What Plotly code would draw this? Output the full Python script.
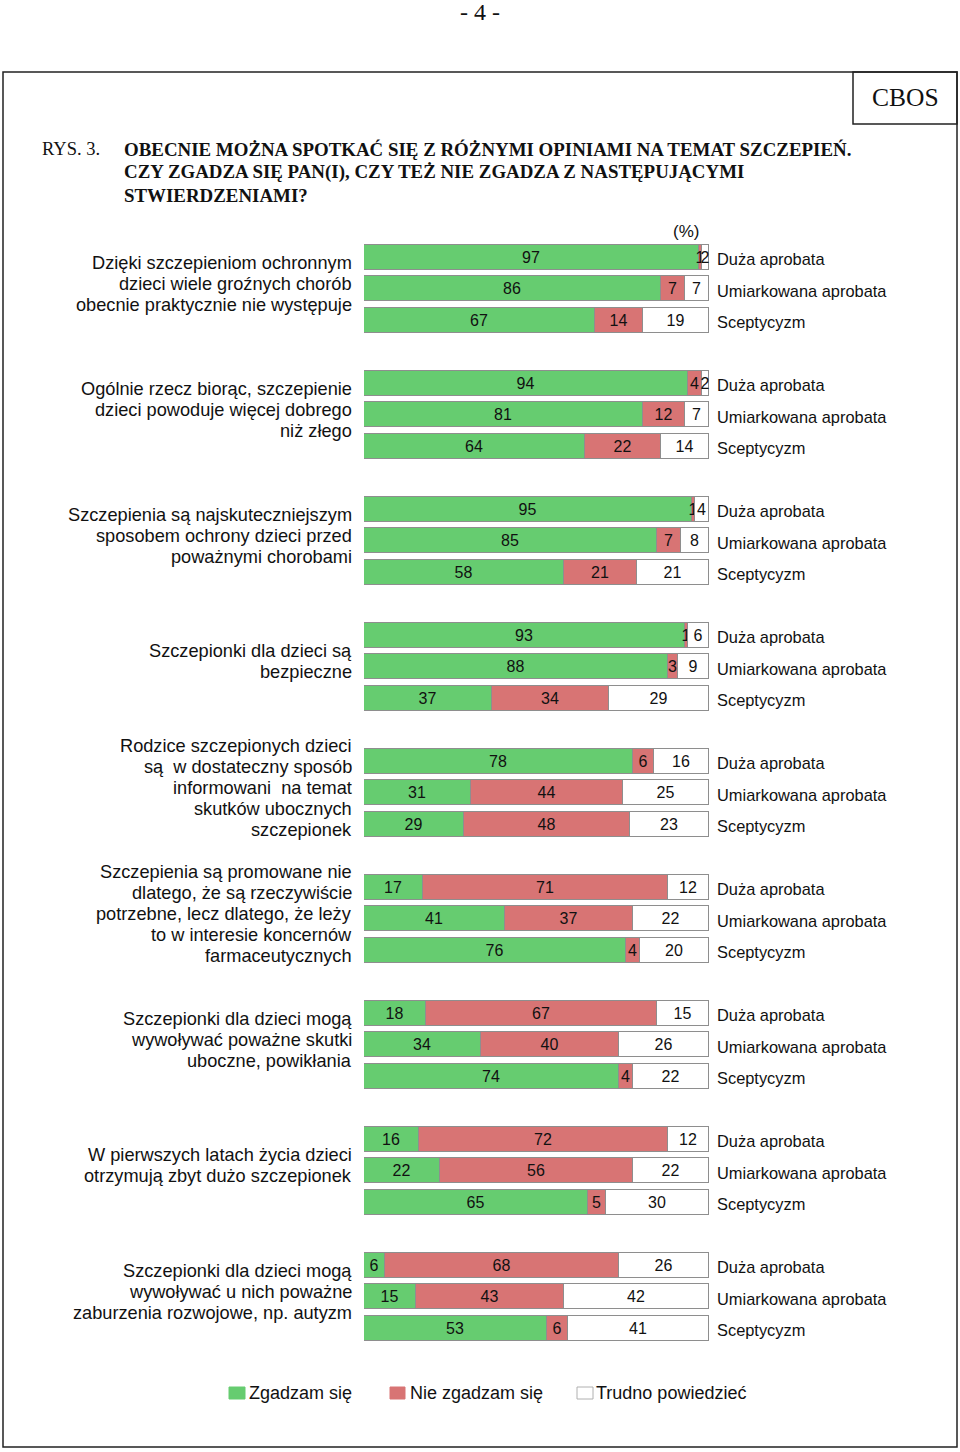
import plotly.graph_objects as go

# ---------------- data ----------------
statements = [
    ["Dzięki szczepieniom ochronnym", "dzieci wiele groźnych chorób", "obecnie praktycznie nie występuje"],
    ["Ogólnie rzecz biorąc, szczepienie", "dzieci powoduje więcej dobrego", "niż złego"],
    ["Szczepienia są najskuteczniejszym", "sposobem ochrony dzieci przed", "poważnymi chorobami"],
    ["Szczepionki dla dzieci są", "bezpieczne"],
    ["Rodzice szczepionych dzieci", "są  w dostateczny sposób", "informowani  na temat", "skutków ubocznych", "szczepionek"],
    ["Szczepienia są promowane nie", "dlatego, że są rzeczywiście", "potrzebne, lecz dlatego, że leży", "to w interesie koncernów", "farmaceutycznych"],
    ["Szczepionki dla dzieci mogą", "wywoływać poważne skutki", "uboczne, powikłania"],
    ["W pierwszych latach życia dzieci", "otrzymują zbyt dużo szczepionek"],
    ["Szczepionki dla dzieci mogą", "wywoływać u nich poważne", "zaburzenia rozwojowe, np. autyzm"],
]
groups = ["Duża aprobata", "Umiarkowana aprobata", "Sceptycyzm"]
series_names = ["Zgadzam się", "Nie zgadzam się", "Trudno powiedzieć"]

agree = [[97, 86, 67], [94, 81, 64], [95, 85, 58], [93, 88, 37], [78, 31, 29],
         [17, 41, 76], [18, 34, 74], [16, 22, 65], [6, 15, 53]]
disagree = [[1, 7, 14], [4, 12, 22], [1, 7, 21], [1, 3, 34], [6, 44, 48],
            [71, 37, 4], [67, 40, 4], [72, 56, 5], [68, 43, 6]]
dontknow = [[2, 7, 19], [2, 7, 14], [4, 8, 21], [6, 9, 29], [16, 25, 23],
            [12, 22, 20], [15, 26, 22], [12, 22, 30], [26, 42, 41]]

# ---------------- layout constants ----------------
W, H = 960, 1452
GREEN = "#66CC70"
RED = "#D87474"
WHITE = "#FFFFFF"
EDGE = "#8E8E8E"
SANS = "Arial, Liberation Sans, sans-serif"
SERIF = "Times New Roman, Liberation Serif, serif"
G0, GSTEP, RSTEP = 257, 126, 31.6
BAR_X0, BAR_X1 = 364, 709


def px(x):
    return x / W


ypos = []
for g in range(len(statements)):
    for r in range(3):
        ypos.append(G0 + g * GSTEP + r * RSTEP)

fig = go.Figure()
for name, vals, col in zip(series_names, [agree, disagree, dontknow], [GREEN, RED, WHITE]):
    flat = [v for grp in vals for v in grp]
    fig.add_trace(go.Bar(
        y=ypos, x=flat, orientation="h", name=name, width=25,
        marker=dict(color=col, line=dict(color=EDGE, width=1)),
        texttemplate="%{x}", textposition="inside", insidetextanchor="middle",
        textangle=0, constraintext="none", cliponaxis=False,
        textfont=dict(family=SANS, size=16, color="#111111"),
        hoverinfo="skip", showlegend=False,
    ))

fig.update_layout(
    width=W, height=H, margin=dict(l=0, r=0, t=0, b=0),
    paper_bgcolor="white", plot_bgcolor="rgba(0,0,0,0)",
    barmode="stack", bargap=0,
    xaxis=dict(range=[0, 100], domain=[px(BAR_X0), px(BAR_X1)], visible=False, fixedrange=True),
    yaxis=dict(range=[H, 0], domain=[0, 1], visible=False, fixedrange=True),
)

ann = []
shapes = []

# page number
ann.append(dict(x=0.5, y=12, xref="paper", yref="y", text="- 4 -", showarrow=False,
                font=dict(family=SERIF, size=24, color="#111"), xanchor="center", yanchor="middle"))
# frame
shapes.append(dict(type="rect", xref="paper", yref="y", x0=px(3), x1=px(957), y0=72, y1=1447,
                   line=dict(color="#222", width=1.5), fillcolor="rgba(0,0,0,0)"))
shapes.append(dict(type="rect", xref="paper", yref="y", x0=px(853), x1=px(957), y0=72, y1=124,
                   line=dict(color="#222", width=1.5), fillcolor="rgba(0,0,0,0)"))
ann.append(dict(x=px(905), y=97, xref="paper", yref="y", text="CBOS", showarrow=False,
                font=dict(family=SERIF, size=25.5, color="#111"), xanchor="center", yanchor="middle"))
# title
ann.append(dict(x=px(40), y=149, xref="paper", yref="y", text="RYS. 3.", showarrow=False,
                font=dict(family=SERIF, size=18.5, color="#111"), xanchor="left", yanchor="middle"))
title_lines = ["OBECNIE MOŻNA SPOTKAĆ SIĘ Z RÓŻNYMI OPINIAMI NA TEMAT SZCZEPIEŃ.",
               "CZY ZGADZA SIĘ PAN(I), CZY TEŻ NIE ZGADZA Z NASTĘPUJĄCYMI",
               "STWIERDZENIAMI?"]
for i, t in enumerate(title_lines):
    ann.append(dict(x=px(122), y=149 + 23 * i, xref="paper", yref="y", text="<b>" + t + "</b>",
                    showarrow=False, font=dict(family=SERIF, size=18.9, color="#111"),
                    xanchor="left", yanchor="middle"))
# (%)
ann.append(dict(x=px(686), y=231, xref="paper", yref="y", text="(%)", showarrow=False,
                font=dict(family=SANS, size=17, color="#111"), xanchor="center", yanchor="middle"))

# statement labels and row labels
for g, lines in enumerate(statements):
    center = G0 + g * GSTEP + RSTEP - 5
    n = len(lines)
    for i, t in enumerate(lines):
        ann.append(dict(x=px(354), y=center + (i - (n - 1) / 2) * 21, xref="paper", yref="y",
                        text=t, showarrow=False, font=dict(family=SANS, size=18.2, color="#111"),
                        xanchor="right", yanchor="middle"))
    for r, lab in enumerate(groups):
        ann.append(dict(x=px(715), y=G0 + g * GSTEP + r * RSTEP + 2, xref="paper", yref="y",
                        text=lab, showarrow=False, font=dict(family=SANS, size=16.4, color="#111"),
                        xanchor="left", yanchor="middle"))

# legend
leg = [(229, 245, 247, GREEN), (390, 405, 408, RED), (577, 593, 594, WHITE)]
for (s0, s1, tx, col), name in zip(leg, series_names):
    shapes.append(dict(type="rect", xref="paper", yref="y", x0=px(s0), x1=px(s1), y0=1387, y1=1399,
                       fillcolor=col, line=dict(color="#B0B0B0" if col == WHITE else col, width=1)))
    ann.append(dict(x=px(tx), y=1393, xref="paper", yref="y", text=name, showarrow=False,
                    font=dict(family=SANS, size=18, color="#111"), xanchor="left", yanchor="middle"))

fig.update_layout(annotations=ann, shapes=shapes)
fig.write_html("out.html", config={"displayModeBar": False},
               post_script="document.body.style.margin='0';document.body.style.padding='0';")
